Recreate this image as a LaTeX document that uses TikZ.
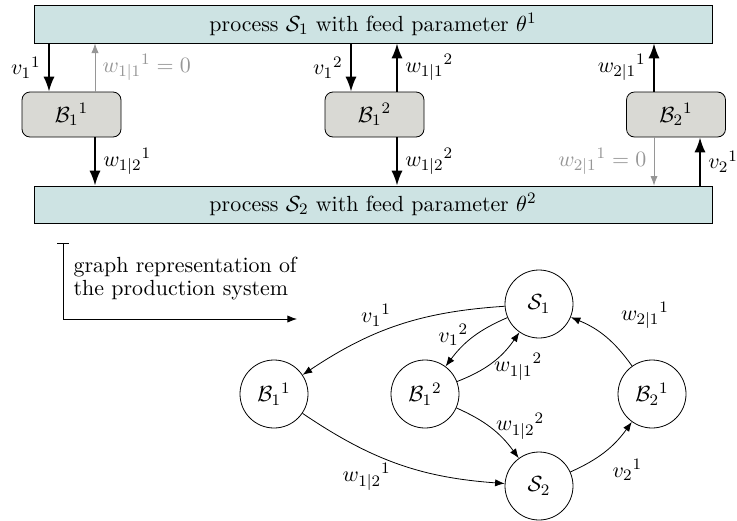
\documentclass[11pt,tikz,border=0pt]{standalone}
\usepackage{amsmath}
\usepackage{tikz}
\usetikzlibrary{arrows.meta}
\definecolor{procfill}{RGB}{205,227,227}
\definecolor{buffill}{RGB}{217,217,212}
\definecolor{zerogray}{RGB}{150,150,150}

\tikzset{
  process/.style={draw,fill=procfill,minimum width=339pt,minimum height=19pt,inner sep=0pt},
  buffer/.style={draw,fill=buffill,rounded corners=4pt,minimum width=49.5pt,minimum height=22.5pt},
  flow/.style={line width=1pt,-{Latex}},
  zeroflow/.style={zerogray,-{Latex}},
  state/.style={draw,circle,minimum size=34pt,inner sep=0pt},
  edge/.style={-{Latex}},
}

\begin{document}
\begin{tikzpicture}[x=0.5pt,y=-0.5pt]
    \useasboundingbox (0,0) rectangle (737,520);
    \node[process] (S1box) at (373,24) {process $\mathcal{S}_1$ with feed parameter $\theta^1$};
    \node[process,minimum height=18.5pt] (S2box) at (373,204.5) {process $\mathcal{S}_2$ with feed parameter $\theta^2$};
    \node[buffer] (B11) at (71.5,114.5) {${\mathcal{B}_1}^1$};
    \node[buffer] (B12) at (374.5,114.5) {${\mathcal{B}_1}^2$};
    \node[buffer] (B21) at (676,114.5) {${\mathcal{B}_2}^1$};
    \draw[flow] ([xshift=-11.25pt]B11.north |- S1box.south) -- node[left]{${v_1}^1$} ([xshift=-11.25pt]B11.north);
    \draw[zeroflow] ([xshift=11.75pt]B11.north) -- node[right,text=zerogray]{${w_{1|1}}^1=0$} ([xshift=11.75pt]B11.north |- S1box.south);
    \draw[flow] ([xshift=11.75pt]B11.south) -- node[right]{${w_{1|2}}^1$} ([xshift=11.75pt]B11.south |- S2box.north);
    \draw[flow] ([xshift=-11.75pt]B12.north |- S1box.south) -- node[left]{${v_1}^2$} ([xshift=-11.75pt]B12.north);
    \draw[flow] ([xshift=11.25pt]B12.north) -- node[right]{${w_{1|1}}^2$} ([xshift=11.25pt]B12.north |- S1box.south);
    \draw[flow] ([xshift=11.25pt]B12.south) -- node[right]{${w_{1|2}}^2$} ([xshift=11.25pt]B12.south |- S2box.north);
    \draw[flow] ([xshift=-11pt]B21.north) -- node[left]{${w_{2|1}}^1$} ([xshift=-11pt]B21.north |- S1box.south);
    \draw[zeroflow] ([xshift=-11pt]B21.south) -- node[left,text=zerogray]{${w_{2|1}}^1=0$} ([xshift=-11pt]B21.south |- S2box.north);
    \draw[flow] ([xshift=12pt]B21.south |- S2box.north) -- node[right]{${v_2}^1$} ([xshift=12pt]B21.south);

    \coordinate (legtop) at (63,243);
    \coordinate (legcorner) at (63,319);
    \coordinate (legend) at (297,319);
    \draw[{Bar[width=6pt]}-{Latex}] (legtop) -- (legcorner) -- (legend);
    \node[anchor=west,align=left,font=\fontsize{10.95}{11.5}\selectfont] (legtext) at (66,279) {graph representation of\\the production system};

    \node[state] (S1) at (539,304) {$\mathcal{S}_1$};
    \node[state] (S2) at (539,486) {$\mathcal{S}_2$};
    \node[state] (b11) at (274,394) {${\mathcal{B}_1}^1$};
    \node[state] (b12) at (425,394) {${\mathcal{B}_1}^2$};
    \node[state] (b21) at (652,394) {${\mathcal{B}_2}^1$};
    \draw[edge] (S1) to[bend right=15] node[above,pos=0.62]{${v_1}^1$} (b11);
    \draw[edge] (S1) to[bend right=15] node[left,pos=0.45]{${v_1}^2$} (b12);
    \draw[edge] (b12) to[bend right=17] node[right,pos=0.4]{${w_{1|1}}^2$} (S1);
    \draw[edge] (b12) to[bend left=15] node[right,pos=0.45]{${w_{1|2}}^2$} (S2);
    \draw[edge] (b11) to[bend right=15] node[below left,pos=0.5,yshift=4pt]{${w_{1|2}}^1$} (S2);
    \draw[edge] (S2) to[bend right=15] node[below right,pos=0.5]{${v_2}^1$} (b21);
    \draw[edge] (b21) to[bend right=16] node[above right,pos=0.5,xshift=4pt]{${w_{2|1}}^1$} (S1);
\end{tikzpicture}
\end{document}
